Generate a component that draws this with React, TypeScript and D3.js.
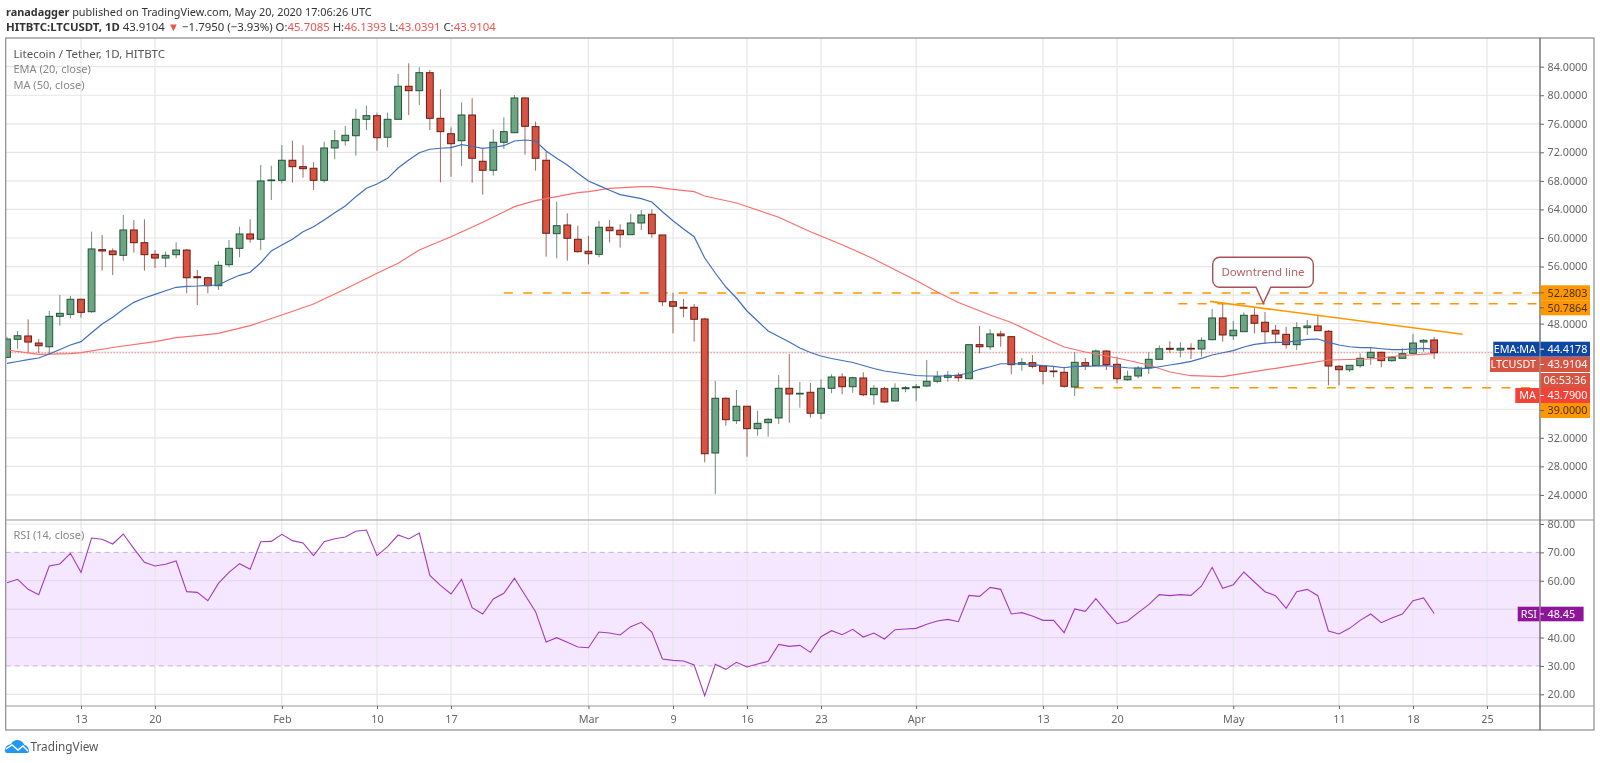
import * as d3 from 'd3';
import React, { useEffect, useRef } from 'react';

// Daily candles, 6 Jan 2020 to 20 May 2020
const opens = [
  43.28, 45.80, 46.27, 45.28, 44.76, 49.02, 49.30, 51.41, 49.67, 58.36,
  58.18, 57.57, 61.12, 59.34, 57.71, 57.19, 57.66, 58.31, 54.57, 54.43,
  53.31, 56.26, 58.55, 60.56, 59.82, 68.03, 68.08, 70.89, 69.99, 69.77,
  68.08, 72.61, 73.63, 74.33, 76.63, 77.14, 74.11, 76.63, 81.26, 80.64,
  83.16, 76.77, 74.61, 73.63, 77.23, 70.75, 69.49, 73.41, 74.75, 79.62,
  75.60, 70.89, 60.60, 61.82, 59.82, 58.14, 57.71, 61.50, 61.08, 60.46,
  62.10, 63.32, 60.42, 51.07, 50.29, 50.29, 48.65, 29.87, 37.54, 34.40,
  36.42, 33.28, 34.12, 34.78, 38.94, 38.14, 38.38, 35.44, 38.94, 40.52,
  39.16, 40.38, 38.04, 38.88, 37.16, 38.88, 39.02, 39.26, 39.92, 40.48,
  40.76, 40.28, 45.05, 44.76, 46.55, 46.17, 42.30, 42.53, 42.06, 41.36,
  41.18, 39.12, 42.53, 42.11, 44.16, 42.30, 40.14, 40.66, 41.82, 43.00,
  44.54, 44.30, 44.54, 44.44, 45.75, 48.79, 46.30, 46.87, 49.17, 48.19,
  47.07, 46.50, 45.05, 47.43, 47.67, 46.93, 42.02, 41.54, 42.11, 43.23,
  43.98, 42.81, 43.14, 43.84, 45.42, 45.7085,
];
const highs = [
  46.16, 46.96, 48.60, 45.84, 49.77, 52.01, 51.87, 51.49, 60.88, 60.42,
  58.55, 63.22, 62.52, 62.62, 58.31, 58.08, 59.39, 58.46, 55.51, 54.57,
  56.78, 59.72, 61.58, 62.62, 70.23, 70.13, 73.03, 73.63, 72.99, 70.61,
  73.49, 75.13, 75.69, 78.08, 78.54, 77.56, 77.56, 82.98, 84.48, 83.92,
  83.54, 80.84, 75.51, 79.01, 79.58, 72.47, 75.23, 76.91, 80.04, 79.72,
  76.30, 72.09, 65.09, 63.46, 61.72, 60.32, 62.38, 62.52, 61.92, 63.36,
  63.92, 64.02, 60.42, 52.33, 51.45, 50.75, 48.83, 39.96, 37.68, 38.70,
  36.42, 35.80, 34.78, 40.80, 43.74, 39.82, 39.68, 40.20, 40.90, 41.04,
  40.56, 41.18, 39.40, 39.16, 39.64, 39.26, 39.54, 42.90, 41.36, 41.36,
  41.12, 45.05, 47.67, 47.20, 47.01, 46.17, 43.18, 43.60, 42.06, 42.06,
  41.96, 43.98, 43.18, 44.40, 44.30, 43.37, 41.40, 42.06, 43.98, 44.96,
  45.52, 45.38, 45.24, 46.08, 50.05, 50.85, 48.37, 49.58, 50.15, 49.63,
  47.81, 47.57, 48.19, 48.51, 49.11, 47.10, 42.20, 42.16, 43.84, 44.68,
  44.07, 43.46, 44.54, 46.55, 45.84, 46.1393,
];
const lows = [
  43.18, 44.48, 43.92, 43.92, 43.60, 47.71, 48.74, 48.83, 49.53, 55.42,
  54.81, 56.82, 57.94, 55.42, 55.79, 55.89, 57.15, 52.25, 50.61, 52.25,
  52.71, 55.89, 57.29, 59.34, 58.31, 65.32, 67.66, 67.75, 68.45, 66.73,
  67.75, 71.03, 72.93, 71.53, 75.13, 72.23, 72.71, 76.63, 77.23, 78.64,
  75.13, 67.80, 68.59, 70.09, 67.75, 66.07, 68.73, 72.47, 74.75, 71.67,
  69.43, 57.38, 57.15, 56.82, 57.94, 56.31, 57.29, 59.39, 58.64, 60.46,
  61.12, 60.04, 50.47, 46.64, 48.89, 45.47, 28.57, 24.13, 33.70, 33.94,
  29.35, 32.30, 32.16, 33.94, 34.12, 36.22, 34.82, 34.64, 38.24, 38.10,
  38.32, 37.82, 36.64, 36.92, 37.16, 38.38, 37.12, 39.08, 39.64, 39.86,
  39.86, 40.28, 43.84, 44.30, 44.76, 40.90, 41.40, 41.74, 39.50, 40.48,
  39.02, 37.86, 41.50, 42.11, 41.50, 39.64, 39.96, 40.34, 40.94, 43.00,
  43.92, 43.28, 43.04, 43.37, 45.66, 45.47, 45.71, 46.87, 46.64, 45.24,
  45.24, 44.48, 44.30, 46.41, 47.01, 39.36, 39.36, 41.22, 41.82, 42.25,
  41.88, 42.67, 43.14, 43.74, 44.07, 43.0391,
];
const closes = [
  45.84, 46.30, 45.42, 44.90, 49.02, 49.44, 51.41, 49.58, 58.46, 58.18,
  57.66, 61.12, 59.34, 57.66, 57.19, 57.57, 58.31, 54.43, 54.43, 53.31,
  56.17, 58.55, 60.56, 59.86, 67.99, 68.13, 70.89, 69.99, 69.71, 68.08,
  72.61, 73.63, 74.39, 76.63, 77.14, 74.05, 76.63, 81.26, 80.64, 83.16,
  76.77, 74.90, 73.21, 77.23, 71.17, 69.49, 73.41, 74.90, 79.62, 75.65,
  71.17, 60.66, 61.72, 59.96, 58.08, 57.80, 61.50, 61.02, 60.46, 62.10,
  63.22, 60.60, 51.07, 50.43, 50.15, 48.61, 29.77, 37.54, 34.54, 36.42,
  33.28, 34.03, 34.59, 38.94, 38.14, 38.24, 35.44, 38.94, 40.52, 39.16,
  40.42, 38.04, 38.94, 37.02, 38.94, 39.02, 39.16, 39.92, 40.56, 40.76,
  40.42, 45.05, 44.76, 46.55, 46.30, 42.25, 42.53, 42.02, 41.32, 41.26,
  39.22, 42.58, 42.11, 44.16, 42.25, 40.28, 40.62, 41.78, 43.00, 44.48,
  44.40, 44.54, 44.44, 45.66, 48.79, 46.41, 47.07, 49.17, 48.05, 46.87,
  46.55, 45.05, 47.43, 47.67, 47.01, 42.06, 41.54, 42.16, 43.14, 43.98,
  42.81, 43.28, 43.79, 45.28, 45.66, 43.9104,
];

const ema20 = [
  42.44, 42.69, 42.95, 43.18, 43.74, 44.37, 45.00, 45.47, 46.73, 47.95,
  48.88, 50.00, 50.98, 51.59, 52.10, 52.61, 53.09, 53.23, 53.27, 53.37,
  53.41, 54.15, 54.77, 55.19, 56.53, 58.18, 59.02, 59.82, 60.88, 61.58,
  62.52, 63.54, 64.48, 65.79, 66.96, 67.57, 68.36, 69.81, 70.93, 71.95,
  72.43, 72.57, 72.65, 73.07, 72.85, 72.57, 72.71, 72.93, 73.59, 73.73,
  73.59, 72.19, 71.17, 70.23, 69.07, 67.99, 67.33, 66.68, 66.07, 65.79,
  65.51, 65.04, 63.68, 62.42, 61.26, 60.18, 57.19, 55.09, 53.13, 51.59,
  49.77, 48.37, 46.97, 46.20, 45.42, 44.58, 43.95, 43.46, 43.11, 42.83,
  42.55, 42.13, 41.71, 41.36, 41.15, 40.94, 40.73, 40.66, 40.66, 40.66,
  40.80, 41.08, 41.60, 41.96, 42.38, 42.38, 42.34, 42.25, 42.11, 42.02,
  41.82, 42.02, 42.02, 42.06, 42.11, 41.96, 41.82, 41.74, 41.74, 41.96,
  42.20, 42.44, 42.72, 43.14, 43.60, 43.92, 44.21, 44.72, 45.10, 45.28,
  45.38, 45.38, 45.57, 45.80, 45.84, 45.38, 45.00, 44.76, 44.63, 44.63,
  44.48, 44.35, 44.35, 44.48, 44.54, 44.4178,
];

// MA(50) is smooth, so it is read at its bends only
const maDays = [
  0, 3, 6, 7, 10, 14, 16, 18, 20, 23, 26, 29, 32, 35, 37, 39, 42, 45, 48, 50,
  52, 54, 55, 57, 60, 61, 63, 65, 66, 69, 70, 73, 76, 79, 82, 86, 88, 90, 93,
  95, 98, 100, 102, 105, 108, 110, 112, 115, 120, 123, 125, 129, 132, 135,
];
const ma50 = [
  44.30, 43.70, 43.79, 43.93, 44.65, 45.47, 46.03, 46.31, 46.64, 47.71,
  49.21, 50.75, 52.85, 55.05, 56.45, 58.32, 60.18, 62.20, 64.39, 65.23,
  65.79, 66.35, 66.49, 66.96, 67.19, 67.19, 66.82, 66.49, 65.88, 64.90,
  64.41, 62.90, 60.88, 59.06, 57.06, 54.04, 52.43, 50.96, 49.21, 48.16,
  46.06, 44.72, 44.02, 43.18, 42.20, 41.22, 40.70, 40.56, 41.74, 42.44,
  42.90, 43.04, 43.53, 43.79,
];

const rsi14 = [
  59.33, 60.50, 56.98, 55.10, 65.20, 65.91, 69.66, 62.97, 75.07, 74.60,
  72.95, 76.48, 71.31, 66.49, 65.20, 65.79, 66.96, 56.16, 55.92, 52.99,
  59.09, 62.97, 66.02, 64.03, 73.77, 73.89, 76.36, 74.13, 73.31, 68.84,
  73.77, 74.83, 75.42, 77.42, 77.89, 68.84, 72.01, 76.12, 74.71, 76.83,
  61.91, 58.39, 55.33, 60.50, 50.52, 48.29, 53.57, 55.57, 60.86, 54.98,
  49.11, 38.42, 39.95, 38.30, 36.66, 36.42, 41.94, 41.59, 40.89, 43.82,
  45.35, 41.94, 32.43, 31.96, 31.73, 30.32, 19.51, 30.55, 28.79, 31.26,
  29.61, 30.67, 31.61, 37.60, 36.89, 37.25, 34.78, 40.30, 42.41, 41.00,
  42.88, 40.18, 41.59, 39.48, 42.77, 43.00, 43.24, 44.65, 45.82, 46.41,
  45.59, 54.86, 54.51, 57.68, 56.98, 48.29, 48.76, 47.58, 46.06, 46.06,
  41.71, 50.05, 49.23, 53.69, 49.23, 44.88, 45.82, 48.76, 51.58, 55.10,
  54.75, 55.10, 54.86, 58.15, 64.73, 57.33, 58.62, 63.09, 59.56, 56.16,
  54.75, 50.28, 56.16, 56.98, 54.75, 42.30, 41.24, 43.24, 46.06, 48.29,
  45.23, 46.88, 48.29, 52.99, 53.93, 48.45,
];

const gridPrices = [84, 80, 76, 72, 68, 64, 60, 56, 52, 48, 44, 40, 36, 32, 28, 24];
const labelPrices = [84, 80, 76, 72, 68, 64, 60, 56, 48, 32, 28, 24];
const rsiTicks = [80, 70, 60, 50, 40, 30, 20];
const rsiLabels = [80, 70, 60, 40, 30, 20]; // 50 sits behind the RSI tag
const tickDays = [7, 14, 26, 35, 42, 55, 63, 70, 77, 86, 98, 105, 116, 126, 133, 140];
const tickLabels = ['13', '20', 'Feb', '10', '17', 'Mar', '9', '16', '23', 'Apr', '13', '20', 'May', '11', '18', '25'];

const levels = [52.2803, 50.7864, 39];
const levelStarts = [47, 110.8, 101];
const trendDays = [113.8, 137.7];
const trendValues = [51.12, 46.5];

const lastClose = 43.9104;

const upFill = '#6ba583';
const upLine = '#225437';
const downFill = '#d75442';
const downLine = '#6e1a12';
const orange = '#ff9800';
const font = '"Noto Sans", "Open Sans", sans-serif';

const W = 1600;
const H = 763;
const frame = { left: 5.7, right: 1594, top: 38, bottom: 730 };
const axisX = 1540;
const splitY = 520;
const timeY = 706;

const firstDay = Date.UTC(2020, 0, 6);
const toDate = (i: number) => new Date(firstDay + i * 864e5);

export default function App() {
  const svgRef = useRef<SVGSVGElement>(null);

  useEffect(() => {
    const svg = d3.select(svgRef.current);
    svg.selectAll('*').remove();

    const x = d3.scaleUtc().domain([toDate(0), toDate(140)]).range([7, 1487]);
    const xDay = (i: number) => x(toDate(i));
    const y = d3.scaleLinear().domain([84, 24]).range([66.7, 494.9]);
    const yRsi = d3.scaleLinear().domain([80, 20]).range([524, 694.3]);

    const defs = svg.append('defs');
    defs.append('clipPath').attr('id', 'pane')
      .append('rect')
      .attr('x', frame.left).attr('y', frame.top)
      .attr('width', axisX - frame.left).attr('height', splitY - frame.top);

    // RSI band goes under the grid
    svg.append('rect')
      .attr('x', frame.left).attr('width', axisX - frame.left)
      .attr('y', yRsi(70)).attr('height', yRsi(30) - yRsi(70))
      .attr('fill', '#9915ff').attr('opacity', 0.1);

    const grid = svg.append('g').attr('stroke', '#e6e6e6').attr('stroke-width', 1.2);
    grid.selectAll('line.v').data(tickDays).join('line')
      .attr('class', 'v')
      .attr('x1', d => xDay(d)).attr('x2', d => xDay(d))
      .attr('y1', frame.top).attr('y2', timeY);
    grid.selectAll('line.h').data(gridPrices).join('line')
      .attr('class', 'h')
      .attr('x1', frame.left).attr('x2', axisX)
      .attr('y1', d => y(d)).attr('y2', d => y(d));
    grid.selectAll('line.r').data(rsiTicks.filter(d => d !== 70 && d !== 30)).join('line')
      .attr('class', 'r')
      .attr('x1', frame.left).attr('x2', axisX)
      .attr('y1', d => yRsi(d)).attr('y2', d => yRsi(d))
      .attr('stroke', d => (d === 60 || d === 50 || d === 40 ? '#e3d5ee' : '#e6e6e6'));

    svg.selectAll('line.band').data([70, 30]).join('line')
      .attr('class', 'band')
      .attr('x1', frame.left).attr('x2', axisX)
      .attr('y1', d => yRsi(d)).attr('y2', d => yRsi(d))
      .attr('stroke', '#c4b3c9').attr('stroke-dasharray', '5 4');

    const pane = svg.append('g').attr('clip-path', 'url(#pane)');

    // last price dotted line
    pane.append('line')
      .attr('x1', frame.left).attr('x2', axisX)
      .attr('y1', y(lastClose)).attr('y2', y(lastClose))
      .attr('stroke', '#e0483a').attr('stroke-dasharray', '1 2').attr('opacity', 0.8);

    // drawn levels and trend line
    pane.selectAll('line.level').data(levels).join('line')
      .attr('class', 'level')
      .attr('x1', (_, i) => xDay(levelStarts[i])).attr('x2', axisX)
      .attr('y1', d => y(d)).attr('y2', d => y(d))
      .attr('stroke', orange).attr('stroke-width', 1.5).attr('stroke-dasharray', '9 10.4');

    const days = d3.range(opens.length);
    const candles = pane.selectAll('g.c').data(days).join('g').attr('class', 'c');
    candles.append('line')
      .attr('x1', i => xDay(i)).attr('x2', i => xDay(i))
      .attr('y1', i => y(highs[i])).attr('y2', i => y(lows[i]))
      .attr('stroke', i => (closes[i] >= opens[i] ? upLine : downLine))
      .attr('opacity', 0.65);
    candles.append('rect')
      .attr('x', i => xDay(i) - 3.4).attr('width', 6.8)
      .attr('y', i => y(Math.max(opens[i], closes[i])))
      .attr('height', i => Math.max(0.6, Math.abs(y(opens[i]) - y(closes[i]))))
      .attr('fill', i => (closes[i] >= opens[i] ? upFill : downFill))
      .attr('stroke', i => (closes[i] >= opens[i] ? upLine : downLine))
      .attr('stroke-width', 1);

    pane.append('path')
      .attr('d', d3.line<number>().x(i => xDay(i)).y(i => y(ma50[maDays.indexOf(i)]))(maDays))
      .attr('fill', 'none').attr('stroke', '#fb6e6e').attr('stroke-width', 1.2);
    pane.append('path')
      .attr('d', d3.line<number>().x(i => xDay(i)).y(i => y(ema20[i]))(days))
      .attr('fill', 'none').attr('stroke', '#3f6fbd').attr('stroke-width', 1.2);

    pane.append('line')
      .attr('x1', xDay(trendDays[0])).attr('x2', xDay(trendDays[1]))
      .attr('y1', y(trendValues[0])).attr('y2', y(trendValues[1]))
      .attr('stroke', orange).attr('stroke-width', 1.6);

    // RSI line
    svg.append('path')
      .attr('d', d3.line<number>().x(i => xDay(i)).y(i => yRsi(rsi14[i]))(days))
      .attr('fill', 'none').attr('stroke', '#a33cbc').attr('stroke-width', 1.1);

    // frame and pane separators
    svg.append('rect')
      .attr('x', frame.left).attr('y', frame.top)
      .attr('width', frame.right - frame.left).attr('height', frame.bottom - frame.top)
      .attr('fill', 'none').attr('stroke', '#8a8a8a').attr('stroke-width', 1.2);
    svg.selectAll('line.sep').data([splitY, timeY]).join('line')
      .attr('class', 'sep')
      .attr('x1', frame.left).attr('x2', frame.right)
      .attr('y1', d => d).attr('y2', d => d)
      .attr('stroke', '#999').attr('stroke-width', 1.2);
    svg.append('line')
      .attr('x1', axisX).attr('x2', axisX)
      .attr('y1', frame.top).attr('y2', frame.bottom)
      .attr('stroke', '#555').attr('stroke-width', 1.2);

    // axes
    const styleAxis = (g: any, color: string) => {
      g.select('.domain').remove();
      g.selectAll('line').attr('stroke', '#666');
      g.selectAll('text')
        .attr('fill', color)
        .attr('font-family', font)
        .attr('font-size', 10.8);
    };
    const priceAxis = d3.axisRight(y).tickValues(labelPrices).tickSize(4).tickPadding(3.5)
      .tickFormat(d => (d as number).toFixed(4));
    svg.append('g').attr('transform', `translate(${axisX},0)`).call(priceAxis).call(styleAxis, '#666');
    const rsiAxis = d3.axisRight(yRsi).tickValues(rsiLabels).tickSize(4).tickPadding(3.5)
      .tickFormat(d => (d as number).toFixed(2));
    svg.append('g').attr('transform', `translate(${axisX},0)`).call(rsiAxis).call(styleAxis, '#666');
    const timeAxis = d3.axisBottom(x).tickValues(tickDays.map(toDate)).tickSize(3).tickPadding(6)
      .tickFormat((_, i) => tickLabels[i]);
    svg.append('g').attr('transform', `translate(0,${timeY})`).call(timeAxis as any).call(styleAxis, '#666');

    // price tags stacked on the right
    const tagRows = [
      { y: 285.3, h: 15, fill: orange, text: '52.2803', color: '#4a3000' },
      { y: 300.3, h: 15, fill: orange, text: '50.7864', color: '#4a3000' },
      { y: 341.7, h: 15, fill: '#0d47a1', text: '44.4178', color: '#fff', name: 'EMA:MA', left: 1493.3 },
      { y: 357, h: 15, fill: '#d75442', text: '43.9104', color: '#fff', name: 'LTCUSDT', left: 1490 },
      { y: 373, h: 15, fill: '#d75442', text: '06:53:36', color: '#fff' },
      { y: 388, h: 15, fill: '#f44336', text: '43.7900', color: '#fff', name: 'MA', left: 1515.3 },
      { y: 403, h: 15, fill: orange, text: '39.0000', color: '#4a3000' },
    ];
    const tags = svg.append('g').attr('font-family', font).attr('font-size', 10.8);
    tagRows.forEach(r => {
      tags.append('rect').attr('x', axisX + 0.6).attr('y', r.y).attr('width', 49.4).attr('height', r.h).attr('fill', r.fill);
      if (r.text !== '06:53:36') {
        tags.append('line').attr('x1', axisX).attr('x2', axisX + 4)
          .attr('y1', r.y + r.h / 2).attr('y2', r.y + r.h / 2)
          .attr('stroke', r.color === '#fff' ? '#fff' : '#666');
      }
      tags.append('text')
        .attr('x', r.text === '06:53:36' ? axisX + 3.5 : axisX + 7.5)
        .attr('y', r.y + r.h / 2 + 3.8)
        .attr('fill', r.color)
        .text(r.text);
      if (r.name) {
        tags.append('rect').attr('x', r.left!).attr('y', r.y).attr('width', axisX - r.left! - 0.6).attr('height', r.h).attr('fill', r.fill);
        tags.append('text')
          .attr('x', axisX - 4).attr('y', r.y + r.h / 2 + 3.8)
          .attr('text-anchor', 'end').attr('fill', '#fff')
          .text(r.name);
      }
    });
    // RSI tag
    tags.append('rect').attr('x', 1517.7).attr('y', 606.7).attr('width', 21.7).attr('height', 14.6).attr('fill', '#8e1599');
    tags.append('rect').attr('x', axisX + 0.6).attr('y', 606.7).attr('width', 43).attr('height', 14.6).attr('fill', '#8e1599');
    tags.append('text').attr('x', axisX - 3).attr('y', 617.8).attr('text-anchor', 'end').attr('fill', '#fff').text('RSI');
    tags.append('text').attr('x', axisX + 7.5).attr('y', 617.8).attr('fill', '#fff').text('48.45');
    tags.append('line').attr('x1', axisX).attr('x2', axisX + 4).attr('y1', 614).attr('y2', 614).attr('stroke', '#fff');

    // callout
    const calloutPath = d3.path();
    const [cx0, cy0, cx1, cy1, cr] = [1212.7, 257.3, 1313.3, 287.3, 7];
    calloutPath.moveTo(cx0 + cr, cy0);
    calloutPath.lineTo(cx1 - cr, cy0);
    calloutPath.arcTo(cx1, cy0, cx1, cy0 + cr, cr);
    calloutPath.lineTo(cx1, cy1 - cr);
    calloutPath.arcTo(cx1, cy1, cx1 - cr, cy1, cr);
    calloutPath.lineTo(1270.7, cy1);
    calloutPath.lineTo(1263.3, 303.3);
    calloutPath.lineTo(1256, cy1);
    calloutPath.lineTo(cx0 + cr, cy1);
    calloutPath.arcTo(cx0, cy1, cx0, cy1 - cr, cr);
    calloutPath.lineTo(cx0, cy0 + cr);
    calloutPath.arcTo(cx0, cy0, cx0 + cr, cy0, cr);
    calloutPath.closePath();
    svg.append('path').attr('d', calloutPath.toString())
      .attr('fill', '#fff').attr('stroke', '#a94f57').attr('stroke-width', 1.4);
    svg.append('text')
      .attr('x', (cx0 + cx1) / 2).attr('y', 276)
      .attr('text-anchor', 'middle')
      .attr('font-family', font).attr('font-size', 11.5)
      .attr('fill', '#b4636a')
      .text('Downtrend line');

    // legends
    const legend = svg.append('g').attr('font-family', font).attr('font-size', 11);
    legend.append('text').attr('x', 13.5).attr('y', 58).attr('font-size', 11.5).attr('fill', '#555').text('Litecoin / Tether, 1D, HITBTC');
    legend.append('text').attr('x', 13.5).attr('y', 73.3).attr('fill', '#888').text('EMA (20, close)');
    legend.append('text').attr('x', 13.5).attr('y', 88.7).attr('fill', '#888').text('MA (50, close)');
    legend.append('text').attr('x', 13.5).attr('y', 539).attr('fill', '#888').text('RSI (14, close)');

    // header
    const head = svg.append('g').attr('font-family', font).attr('fill', '#333');
    const line1 = head.append('text').attr('x', 6).attr('y', 15.5).attr('font-size', 10.9);
    line1.append('tspan').attr('font-weight', 700).text('ranadagger');
    line1.append('tspan').text(' published on TradingView.com, May 20, 2020 17:06:26 UTC');
    const line2 = head.append('text').attr('x', 6).attr('y', 30.5).attr('font-size', 11.4);
    line2.append('tspan').attr('font-weight', 700).text('HITBTC:LTCUSDT, 1D');
    line2.append('tspan').text('  43.9104 ');
    line2.append('tspan').attr('fill', '#ef5350').text('▼');
    line2.append('tspan').text(' −1.7950 (−3.93%) ');
    [['O:', '45.7085'], ['H:', '46.1393'], ['L:', '43.0391'], ['C:', '43.9104']].forEach(([k, v]) => {
      line2.append('tspan').text(k);
      line2.append('tspan').attr('fill', '#ef5350').text(v + ' ');
    });

    // logo
    const logo = svg.append('g');
    logo.append('path')
      .attr('d', 'M5 751 C5 746 8 745 11 744 C13 740 18 739 21 741 C24 743 24 745 25 745 C28 746 29 749 29 751 Q29 753 27 753 L7 753 Q5 753 5 751 Z')
      .attr('fill', '#2196f3');
    logo.append('path')
      .attr('d', 'M6 749 L12 745 L18 750 L23 746 L28 751')
      .attr('fill', 'none').attr('stroke', '#fff').attr('stroke-width', 1.5);
    logo.append('text')
      .attr('x', 30.5).attr('y', 751)
      .attr('font-family', font).attr('font-size', 11.8).attr('fill', '#555')
      .text('TradingView');
  }, []);

  return (
    <svg
      ref={svgRef}
      width={W}
      height={H}
      style={{ position: 'absolute', left: 0, top: 0, display: 'block', background: '#fff', filter: 'blur(0.3px)' }}
    />
  );
}
